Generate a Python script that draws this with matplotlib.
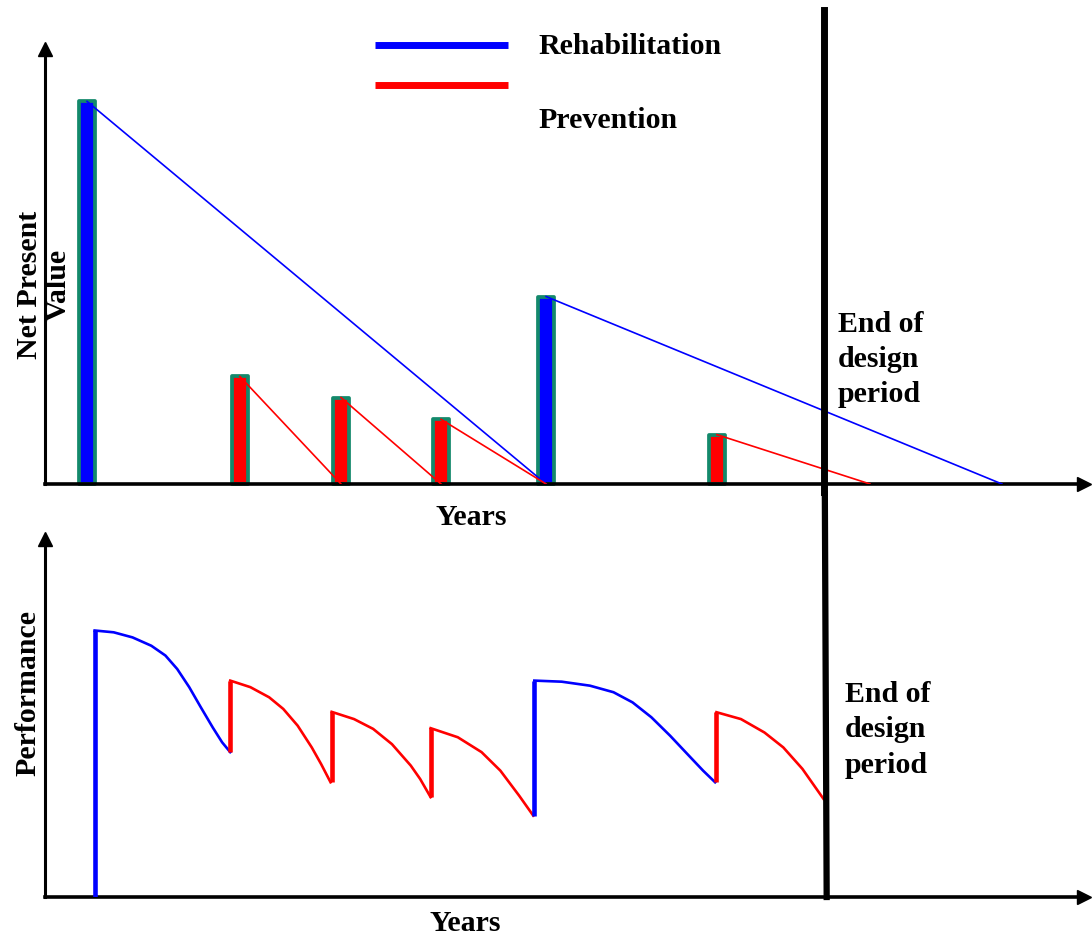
import matplotlib.pyplot as plt

plt.rcParams['font.family'] = ['Liberation Serif', 'DejaVu Serif']
plt.rcParams['font.weight'] = 'bold'

BLUE = '#0000ff'
RED = '#ff0000'
EDGE = '#13896b'

# top panel: net present value of each treatment (years / relative cost)
treat_years = [1.61, 7.46, 11.33, 15.16, 19.18, 25.72]
treat_kind = ['rehab', 'prev', 'prev', 'prev', 'rehab', 'prev']
treat_cost = [100, 28.1, 22.6, 16.9, 49.0, 12.9]
npv_zero_year = [19.18, 11.33, 15.16, 19.18, 36.63, 31.58]
design_end = 29.82

# bottom panel: performance after each treatment
perf_kind = ['rehab', 'prev', 'prev', 'prev', 'rehab', 'prev']
perf_x = [
    [1.90, 2.63, 3.35, 4.07, 4.61, 5.06, 5.52, 5.96, 6.42, 6.78, 7.09],
    [7.09, 7.86, 8.58, 9.12, 9.67, 10.21, 10.57, 10.93],
    [10.97, 11.83, 12.56, 13.28, 14.00, 14.36, 14.76],
    [14.76, 15.80, 16.71, 17.43, 18.15, 18.69],
    [18.73, 19.78, 20.86, 21.76, 22.49, 23.21, 23.93, 24.65, 25.19, 25.65],
    [25.70, 26.64, 27.54, 28.26, 28.99, 29.80],
]
perf_y = [
    [73.4, 72.9, 71.5, 69.2, 66.5, 62.8, 57.8, 52.3, 46.7, 42.6, 39.9],
    [59.6, 57.8, 55.0, 51.8, 47.2, 41.2, 36.6, 31.6],
    [51.0, 49.0, 46.3, 42.1, 36.2, 32.5, 27.5],
    [46.5, 44.0, 39.9, 34.8, 27.9, 22.4],
    [59.6, 59.3, 58.2, 56.4, 53.6, 49.5, 44.4, 38.9, 34.8, 31.6],
    [50.9, 49.0, 45.3, 41.2, 35.3, 27.0],
]

colour = {'rehab': BLUE, 'prev': RED}
FS = 21.5

fig = plt.figure(figsize=(10.92, 9.37), dpi=100)
ax1 = fig.add_axes([0.04121, 0.48239, 0.95147, 0.46425])
ax2 = fig.add_axes([0.04121, 0.04162, 0.95147, 0.38207])


def setup(ax, ytop):
    ax.set_xlim(0, 39.77)
    ax.set_ylim(0, ytop)
    ax.spines['top'].set_visible(False)
    ax.spines['right'].set_visible(False)
    ax.spines['left'].set_linewidth(2.2)
    ax.spines['bottom'].set_linewidth(2.6)
    ax.set_xticks([])
    ax.set_yticks([])
    ax.patch.set_alpha(0)
    ax.plot(1, 0, '>k', ms=10, transform=ax.get_yaxis_transform(), clip_on=False)
    ax.plot(0, 1, '^k', ms=10, transform=ax.get_xaxis_transform(), clip_on=False)


setup(ax1, 113.7)
setup(ax2, 98.6)

# --- top: NPV bars and decay lines
bar_cols = [colour[k] for k in treat_kind]
ax1.bar(treat_years, treat_cost, width=0.6, color=bar_cols, edgecolor=EDGE,
        linewidth=2.7, joinstyle='round', zorder=2, clip_on=False)
for yr, c, z, k in zip(treat_years, treat_cost, npv_zero_year, treat_kind):
    ax1.plot([yr, z], [c, 0], color=colour[k], lw=1.2, zorder=3)

ax1.plot([design_end, design_end], [123.9, -2.1], color='k', lw=5, clip_on=False, zorder=4)
ax1.text(design_end + 0.53, 32.8, 'End of\ndesign\nperiod', fontsize=FS, va='center', ha='left',
         linespacing=1.4)
ax1.text(16.31, -8.6, 'Years', fontsize=FS, ha='center', va='center')
ax1.text(-0.05, 52.3, 'Net Present\nValue', fontsize=FS, rotation=90, ha='center', va='center',
         multialignment='center', linespacing=1.1)

# legend, drawn by hand to keep its odd layout
ax1.plot([0.3176, 0.4456], [1.009, 1.009], color=BLUE, lw=5, transform=ax1.transAxes,
         clip_on=False, solid_capstyle='butt')
ax1.plot([0.3176, 0.4456], [0.917, 0.917], color=RED, lw=5, transform=ax1.transAxes,
         clip_on=False, solid_capstyle='butt')
ax1.text(0.4745, 1.007, 'Rehabilitation', fontsize=FS, transform=ax1.transAxes, va='center')
ax1.text(0.4745, 0.839, 'Prevention', fontsize=FS, transform=ax1.transAxes, va='center')

# --- bottom: performance curve
prev_end = 0
for xs, ys, k in zip(perf_x, perf_y, perf_kind):
    ax2.plot([xs[0], xs[0]], [prev_end, ys[0]], color=colour[k], lw=3.3,
             solid_capstyle='butt', zorder=3)
    ax2.plot(xs, ys, color=colour[k], lw=1.9, zorder=3, solid_joinstyle='round')
    prev_end = ys[-1]

ax2.plot([design_end + 0.03, design_end + 0.1], [111, 0], color='k', lw=4.5, clip_on=False, zorder=4)
ax2.text(design_end + 0.8, 46.3, 'End of\ndesign\nperiod', fontsize=FS, va='center', ha='left',
         linespacing=1.4)
ax2.text(16.08, -7.1, 'Years', fontsize=FS, ha='center', va='center')
ax2.text(-0.65, 56.5, 'Performance', fontsize=FS, rotation=90, ha='center', va='center')

fig.savefig('out.png', dpi=100)
